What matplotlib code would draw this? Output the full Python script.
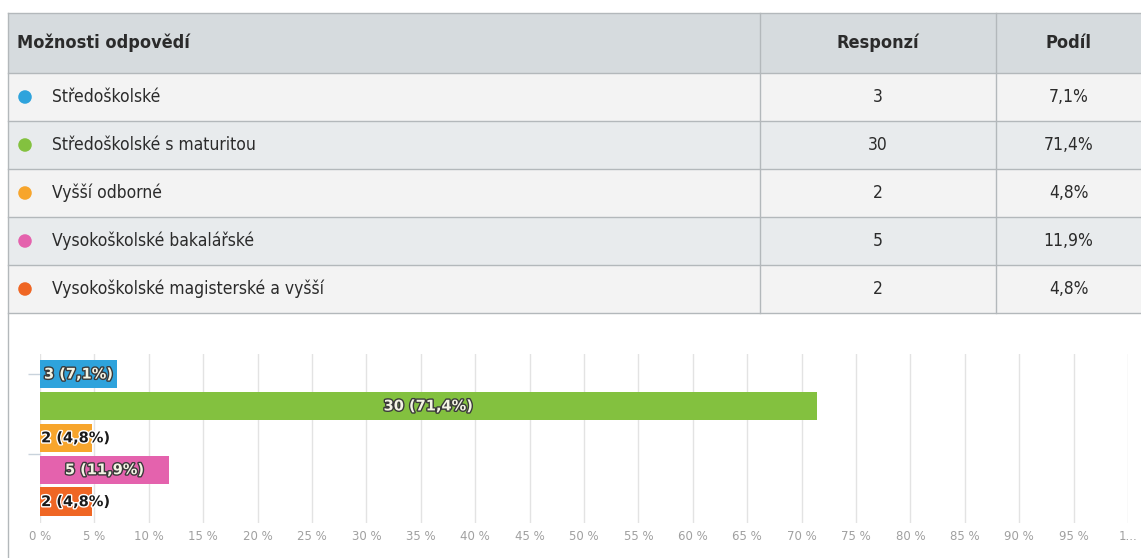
import matplotlib
matplotlib.use("Agg")
import matplotlib.pyplot as plt
import matplotlib.patheffects as pe
from matplotlib import font_manager as fm

# ---------------- data ----------------
categories = ["Středoškolské", "Středoškolské s maturitou", "Vyšší odborné",
              "Vysokoškolské bakalářské", "Vysokoškolské magisterské a vyšší"]
responses = [3, 30, 2, 5, 2]
shares = [7.1, 71.4, 4.8, 11.9, 4.8]
colors = ["#2ea3dc", "#83c13f", "#f7a52c", "#e462ad", "#ef6624"]
header = ["Možnosti odpovědí", "Responzí", "Podíl"]
tick_values = list(range(0, 101, 5))
tick_labels = [f"{v} %" for v in tick_values[:-1]] + ["1..."]

# ---------------- fonts ----------------
names = {f.name for f in fm.fontManager.ttflist}
if "DejaVu Sans Condensed" in names or any(
        "Condensed" in f.fname and "DejaVuSans" in f.fname for f in fm.fontManager.ttflist):
    TFONT = dict(family="DejaVu Sans", stretch="condensed")
elif "Liberation Sans Narrow" in names:
    TFONT = dict(family="Liberation Sans Narrow")
else:
    TFONT = dict(family="DejaVu Sans")

W, H = 1141, 558
fig = plt.figure(figsize=(W / 100, H / 100), dpi=100)
bg = fig.add_axes([0, 0, 1, 1])
bg.set_xlim(0, W)
bg.set_ylim(H, 0)
bg.axis("off")

# ---------------- table ----------------
left, right = 8, W
col1, col2 = 760, 996
top, head_bot = 13, 73
row_h = 48
line_c = "#b3b8bb"
bg.add_patch(plt.Rectangle((left, top), right - left, head_bot - top,
                           facecolor="#d6dbde", edgecolor="none"))
row_bgs = ["#f3f3f3", "#e8ebed"]
for i in range(len(categories)):
    y0 = head_bot + i * row_h
    bg.add_patch(plt.Rectangle((left, y0), right - left, row_h,
                               facecolor=row_bgs[i % 2], edgecolor="none"))
table_bot = head_bot + len(categories) * row_h
for y in [top, head_bot] + [head_bot + (i + 1) * row_h for i in range(len(categories))]:
    bg.plot([left, right], [y, y], color=line_c, lw=1)
bg.plot([left, left], [top, H], color=line_c, lw=1)
for x in (col1, col2):
    bg.plot([x, x], [top, table_bot], color=line_c, lw=1)

tc = "#2b2b2b"
hy = (top + head_bot) / 2
hfs, rfs = 13, 12.5
bg.text(17, hy, header[0], ha="left", va="center", fontsize=hfs,
        fontweight="bold", color=tc, **TFONT)
bg.text((col1 + col2) / 2, hy, header[1], ha="center", va="center",
        fontsize=hfs, fontweight="bold", color=tc, **TFONT)
bg.text((col2 + right) / 2, hy, header[2], ha="center", va="center",
        fontsize=hfs, fontweight="bold", color=tc, **TFONT)
for i, (cat, r, s, c) in enumerate(zip(categories, responses, shares, colors)):
    yc = head_bot + i * row_h + row_h / 2
    bg.scatter([25], [yc], s=95, color=c, edgecolor="none", zorder=3)
    bg.text(52, yc, cat, ha="left", va="center", fontsize=rfs, color=tc, **TFONT)
    bg.text((col1 + col2) / 2, yc, str(r), ha="center", va="center",
            fontsize=rfs, color=tc, **TFONT)
    bg.text((col2 + right) / 2, yc, f"{s:.1f}%".replace(".", ","), ha="center",
            va="center", fontsize=rfs, color=tc, **TFONT)

# ---------------- bar chart ----------------
x0, x1 = 40, 1128
ytop, ybot = 354, 523
pitch = 31.9
ax = fig.add_axes([x0 / W, 1 - ybot / H, (x1 - x0) / W, (ybot - ytop) / H])
ax.set_xlim(0, 100)
ax.set_ylim((ybot - 374) / pitch, (ytop - 374) / pitch)
ax.patch.set_alpha(0)
for sp in ax.spines.values():
    sp.set_visible(False)
ax.set_xticks(tick_values)
ax.set_xticklabels(tick_labels, fontsize=8.5, color="#a0a0a0")
ax.tick_params(axis="x", length=0, pad=5)
ax.grid(axis="x", color="#e3e3e3", lw=1)
ax.set_axisbelow(True)
ax.set_yticks([0, 2.5])
ax.set_yticklabels([])
ax.tick_params(axis="y", length=9, color="#c9d3dc", width=1)

idx = list(range(len(categories)))
ax.barh(idx, shares, height=0.89, color=colors, zorder=2)
for i, (r, s) in enumerate(zip(responses, shares)):
    lab = f"{r} ({s:.1f}%)".replace(".", ",")
    if s >= 7:
        t = ax.text(s / 2, i, lab, ha="center", va="center", fontsize=10.5,
                    fontweight="bold", color="#f4f4e4", zorder=4)
        t.set_path_effects([pe.withStroke(linewidth=2, foreground="#3a3a3a")])
    else:
        t = ax.text(0.1, i, lab, ha="left", va="center", fontsize=10.5,
                    fontweight="bold", color="#1a1a1a", zorder=4)
        t.set_path_effects([pe.withStroke(linewidth=2, foreground="white")])

fig.savefig("out.png", dpi=100)
